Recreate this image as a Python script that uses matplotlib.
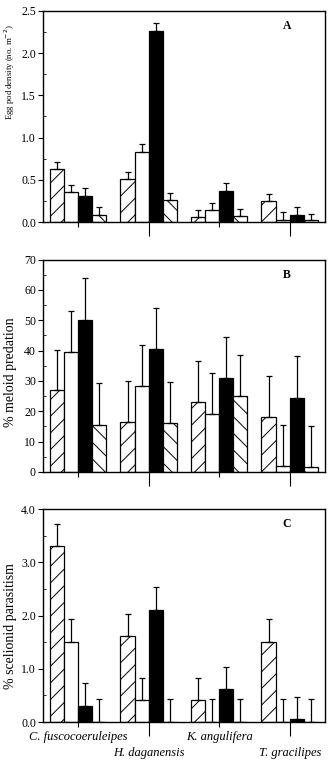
import matplotlib
matplotlib.use('Agg')
import matplotlib.pyplot as plt
from matplotlib.ticker import MultipleLocator, FormatStrFormatter, FixedLocator, NullFormatter

plt.rcParams['font.family'] = ['Liberation Serif', 'DejaVu Serif']
plt.rcParams['hatch.linewidth'] = 0.7

species = ['C. fuscocoeruleipes', 'H. daganensis', 'K. angulifera', 'T. gracilipes']
groups = [1, 2, 3, 4]

# panel A: egg pod density
a_vals = [[0.63, 0.51, 0.055, 0.25],
          [0.355, 0.83, 0.145, 0.03],
          [0.315, 2.26, 0.37, 0.09],
          [0.09, 0.26, 0.075, 0.02]]
a_err = [[0.085, 0.085, 0.085, 0.085],
         [0.085, 0.09, 0.085, 0.09],
         [0.085, 0.09, 0.09, 0.09],
         [0.09, 0.09, 0.085, 0.08]]

# panel B: % meloid predation
b_vals = [[26.9, 16.5, 23.0, 18.1],
          [39.5, 28.3, 19.1, 1.9],
          [50.2, 40.5, 31.0, 24.4],
          [15.6, 16.0, 25.1, 1.5]]
b_err = [[13.4, 13.6, 13.7, 13.6],
         [13.7, 13.6, 13.6, 13.6],
         [13.7, 13.6, 13.6, 13.7],
         [13.6, 13.6, 13.6, 13.5]]

# panel C: % scelionid parasitism
c_vals = [[3.31, 1.61, 0.41, 1.51],
          [1.51, 0.41, 0.0, 0.0],
          [0.31, 2.11, 0.62, 0.06],
          [0.0, 0.0, 0.0, 0.0]]
c_err = [[0.41, 0.42, 0.42, 0.42],
         [0.42, 0.42, 0.44, 0.44],
         [0.42, 0.43, 0.41, 0.41],
         [0.44, 0.44, 0.44, 0.44]]

styles = [dict(color='white', hatch='//'),
          dict(color='white', hatch=None),
          dict(color='black', hatch=None),
          dict(color='white', hatch='\\\\')]
offsets = [-0.3, -0.1, 0.1, 0.3]

fig = plt.figure(figsize=(3.35, 7.66), dpi=100)
axA = fig.add_axes([0.128, 0.710, 0.842, 0.276])
axB = fig.add_axes([0.128, 0.384, 0.842, 0.277])
axC = fig.add_axes([0.128, 0.0574, 0.842, 0.278])

panels = [(axA, a_vals, a_err, 2.5, 0.5, 0.25, '%.1f', 'Egg pod density (no. m$^{-2}$)', 'A', 0.71, 6.3),
          (axB, b_vals, b_err, 70, 10, 5, '%d', '% meloid predation', 'B', 0.47, 10),
          (axC, c_vals, c_err, 4.0, 1.0, 0.5, '%.1f', '% scelionid parasitism', 'C', 0.45, 10)]

for ax, vals, errs, ymax, maj, mnr, fmt, ylab, letter, ly, lsize in panels:
    for k in range(4):
        xs = [g + offsets[k] for g in groups]
        ax.bar(xs, vals[k], width=0.2, facecolor=styles[k]['color'],
               hatch=styles[k]['hatch'], edgecolor='black', linewidth=0.9, zorder=2)
        ax.errorbar(xs, vals[k], yerr=[[0] * 4, errs[k]], fmt='none', ecolor='black',
                    elinewidth=0.9, capsize=2, capthick=0.9, zorder=3)
    ax.set_xlim(0.5, 4.5)
    ax.set_ylim(0, ymax)
    ax.yaxis.set_major_locator(MultipleLocator(maj))
    ax.yaxis.set_minor_locator(MultipleLocator(mnr))
    ax.yaxis.set_major_formatter(FormatStrFormatter(fmt))
    ax.tick_params(axis='y', which='major', direction='out', length=3.5, width=0.8,
                   labelsize=8.5, pad=1.5)
    ax.tick_params(axis='y', which='minor', direction='in', length=2, width=0.6)
    ax.xaxis.set_major_locator(FixedLocator([1, 3]))
    ax.xaxis.set_minor_locator(FixedLocator([2, 4]))
    ax.tick_params(axis='x', which='major', direction='out', length=3.5, width=0.8)
    ax.tick_params(axis='x', which='minor', direction='out', length=10, width=0.8)
    ax.set_xticklabels([])
    ax.xaxis.set_minor_formatter(NullFormatter())
    for s in ax.spines.values():
        s.set_linewidth(1.0)
    ax.set_ylabel(ylab, fontsize=lsize)
    ax.yaxis.set_label_coords(-0.093, ly)
    ax.text(0.865, 0.93, letter, transform=ax.transAxes, fontsize=8.5,
            fontweight='bold', ha='center', va='center')

axC.set_xticklabels([species[0], species[2]], fontsize=9, style='italic')
axC.set_xticks([2, 4], minor=True)
axC.set_xticklabels([species[1], species[3]], minor=True, fontsize=9, style='italic')
axC.tick_params(axis='x', which='major', pad=3)
axC.tick_params(axis='x', which='minor', pad=8)

fig.savefig('out.png', dpi=100)
